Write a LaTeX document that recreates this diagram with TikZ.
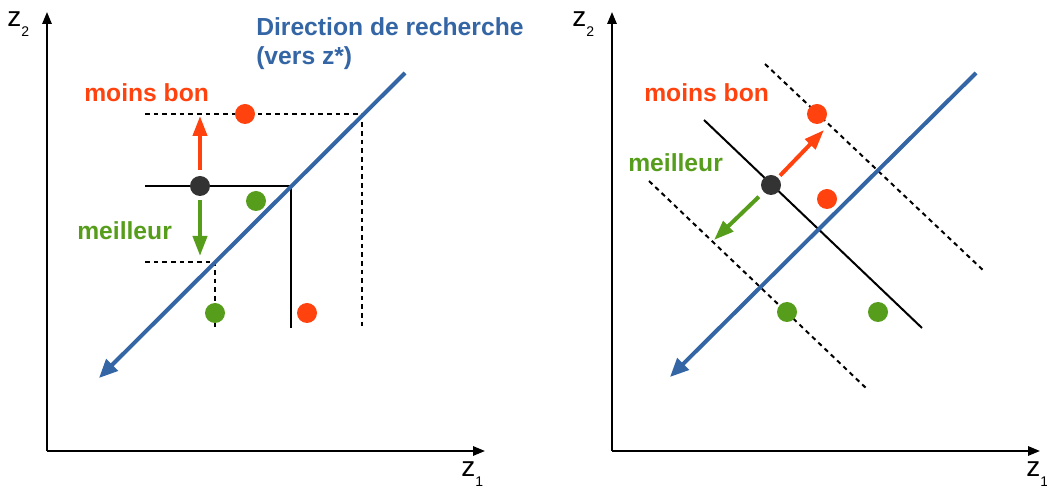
\documentclass[tikz,border=0pt]{standalone}
\usepackage{fontspec}
\setmainfont{Liberation Sans}
\usepackage{tikz}
\usetikzlibrary{arrows.meta}
\definecolor{searchblue}{HTML}{3465A4}
\definecolor{worseO}{HTML}{FF420E}
\definecolor{betterG}{HTML}{579D1C}
\definecolor{pointK}{HTML}{333333}

\newcommand{\zlab}[1]{{\fontsize{21}{21}\selectfont z\raisebox{-7.5pt}{\fontsize{10.5}{10.5}\selectfont #1}}}

\begin{document}
\begin{tikzpicture}[
    x=0.75pt, y=-0.75pt,
    axis/.style={line width=1.5pt, -{Triangle[length=9pt,width=7pt]}},
    searchdir/.style={searchblue, line width=3pt, -{Triangle[length=14pt,width=12pt]}},
    isoline/.style={line width=1.5pt},
    dashline/.style={line width=1.5pt, dash pattern=on 3.5pt off 3pt},
    dot/.style={circle, inner sep=0pt, minimum size=15pt},
    worse/.style={worseO, line width=3pt, -{Triangle[length=15pt,width=10.5pt]}},
    better/.style={betterG, line width=3pt, -{Triangle[length=15pt,width=10.5pt]}},
    txt/.style={inner sep=0pt, anchor=base west, font=\fontsize{18.5}{21.75}\selectfont\bfseries}
]
\useasboundingbox (0,0) rectangle (1047,491);

% ---- left panel: lexicographic / box ordering
\coordinate (oL) at (47,451);
\draw[axis] (oL) -- (47,12);
\draw[axis] (oL) -- (485,451);
\node[inner sep=0pt, anchor=base west] (z2L) at (7,27) {\zlab{2}};
\node[inner sep=0pt, anchor=base west] (z1L) at (461,477) {\zlab{1}};

\coordinate (hiW) at (145,114);
\coordinate (hiC) at (362,114);
\coordinate (hiS) at (362,328);
\coordinate (miW) at (145,186);
\coordinate (miC) at (291,186);
\coordinate (miS) at (291,328);
\coordinate (loW) at (145,262);
\coordinate (loC) at (215,262);
\coordinate (loS) at (215,328);
\draw[dashline] (hiW) -- (hiC) -- (hiS);
\draw[isoline] (miW) -- (miC) -- (miS);
\draw[dashline] (loW) -- (loC) -- (loS);

\coordinate (dirTopL) at (405,73);
\coordinate (dirEndL) at (99,378);
\draw[searchdir] (dirTopL) -- (dirEndL);

\node[dot, fill=worseO] (r1L) at (245,114) {};
\node[dot, fill=betterG] (g1L) at (256,201) {};
\node[dot, fill=betterG] (g2L) at (215,313) {};
\node[dot, fill=worseO] (r2L) at (307,313) {};
\node[dot, fill=pointK] (curL) at (200,186) {};

\coordinate (upL) at (200,116);
\coordinate (downL) at (200,256);
\draw[worse, shorten <=4.5pt] (curL) -- (upL);
\draw[better, shorten <=3pt] (curL) -- (downL);

\node[txt, worseO] (worseL) at (84,102) {moins bon};
\node[txt, betterG] (betterL) at (77,240) {meilleur};
\node[txt, searchblue] (dirA) at (256,36) {Direction de recherche};
\node[txt, searchblue] (dirB) at (256,65) {(vers z*)};

% ---- right panel: weighted sum
\coordinate (oR) at (612,451);
\draw[axis] (oR) -- (612,12);
\draw[axis] (oR) -- (1040,451);
\node[inner sep=0pt, anchor=base west] (z2R) at (572,27) {\zlab{2}};
\node[inner sep=0pt, anchor=base west] (z1R) at (1026,477) {\zlab{1}};

\coordinate (upA) at (765,64);
\coordinate (upB) at (985,272);
\coordinate (midA) at (704,120);
\coordinate (midB) at (922,328);
\coordinate (lowA) at (649,181);
\coordinate (lowB) at (867,389);
\draw[dashline] (upA) -- (upB);
\draw[isoline] (midA) -- (midB);
\draw[dashline] (lowA) -- (lowB);

\coordinate (dirTopR) at (976,73);
\coordinate (dirEndR) at (670,377);
\draw[searchdir] (dirTopR) -- (dirEndR);

\node[dot, fill=worseO] (r1R) at (817,114) {};
\node[dot, fill=worseO] (r2R) at (827,199) {};
\node[dot, fill=betterG] (g1R) at (787,312) {};
\node[dot, fill=betterG] (g2R) at (878,312) {};
\node[dot, fill=pointK] (curR) at (771,185) {};

\coordinate (upR) at (824,130);
\coordinate (downR) at (714,240);
\draw[worse, shorten <=2pt] (curR) -- (upR);
\draw[better, shorten <=5pt] (curR) -- (downR);

\node[txt, worseO] (worseR) at (644,102) {moins bon};
\node[txt, betterG] (betterR) at (628,172) {meilleur};
\end{tikzpicture}
\end{document}
